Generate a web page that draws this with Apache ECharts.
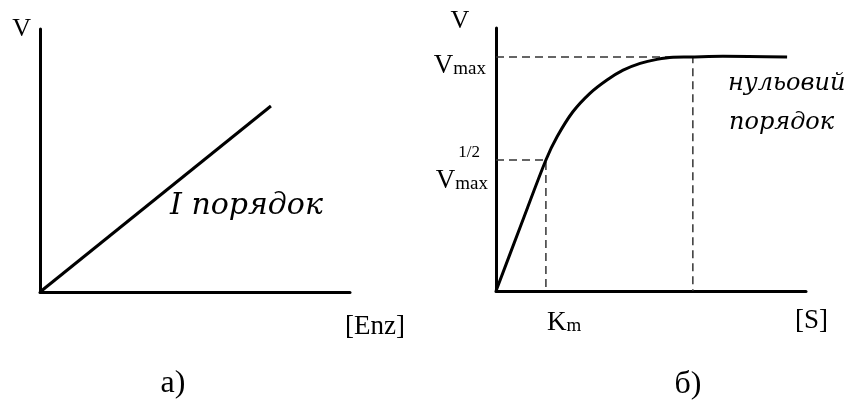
<!DOCTYPE html>
<html>
<head>
<meta charset="utf-8">
<script src="https://cdn.jsdelivr.net/npm/echarts@6/dist/echarts.min.js"></script>
<style>
    html, body {margin: 0; padding: 0; background: #fff;}
    #chart {width: 850px; height: 403px;}
</style>
</head>
<body>
<div id="chart"></div>
<script>
// а) перший порядок: V пропорційна [Enz]
const enzX = [0, 74.5];
const enzV = [0, 79.5];
// б) залежність V від [S]
const substrateS = [0, 8, 16.1, 19.7, 24.8, 30.3, 35.8, 41.0, 46.5, 51.9, 57.1, 62.6, 73.2, 93.9];
const velocityV = [0, 28, 56, 65.9, 76.6, 84.5, 90.2, 94.4, 97.3, 99.0, 99.9, 100, 100.3, 100];
// опорні значення
const vmax = 100;
const halfVmax = 56;
const km = 16.1;
const zeroOrderS = 63.5;
const axisMaxX = 100;
const axisMaxY = 112.4;

const serif = '"Liberation Serif", "DejaVu Serif", serif';
const italic = '"DejaVu Serif", serif';
const ink = '#000';

const chart = echarts.init(document.getElementById('chart'));

function axisPair (idx) {
    return {
        x: {
            gridIndex: idx, type: 'value', min: 0, max: axisMaxX,
            axisLine: {lineStyle: {color: '#000', width: 3}},
            axisTick: {show: false}, axisLabel: {show: false}, splitLine: {show: false}
        },
        y: {
            gridIndex: idx, type: 'value', min: 0, max: axisMaxY,
            axisLine: {show: true, lineStyle: {color: '#000', width: 3}},
            axisTick: {show: false}, axisLabel: {show: false}, splitLine: {show: false}
        }
    };
}
const a0 = axisPair(0);
const a1 = axisPair(1);

const dashStyle = {color: '#333', width: 1.5, type: [8, 5]};

chart.setOption({
    animation: false,
    grid: [
        {left: 40, top: 29, width: 310, height: 263},
        {left: 496, top: 28, width: 310, height: 263}
    ],
    xAxis: [a0.x, a1.x],
    yAxis: [a0.y, a1.y],
    series: [
        {
            type: 'line', xAxisIndex: 0, yAxisIndex: 0, symbol: 'none',
            data: enzX.map((x, i) => [x, enzV[i]]),
            lineStyle: {color: '#000', width: 3}
        },
        {
            type: 'line', xAxisIndex: 1, yAxisIndex: 1, symbol: 'none',
            data: [[0, vmax], [zeroOrderS, vmax], [zeroOrderS, 0]],
            lineStyle: dashStyle
        },
        {
            type: 'line', xAxisIndex: 1, yAxisIndex: 1, symbol: 'none',
            data: [[0, halfVmax], [km, halfVmax], [km, 0]],
            lineStyle: dashStyle
        },
        {
            type: 'line', xAxisIndex: 1, yAxisIndex: 1, symbol: 'none',
            smooth: 0.3,
            data: substrateS.map((s, i) => [s, velocityV[i]]),
            lineStyle: {color: '#000', width: 3},
            z: 3
        }
    ]
});

// підписи прив'язані до осей через convertToPixel
const o0 = chart.convertToPixel({gridIndex: 0}, [0, 0]);
const e0 = chart.convertToPixel({gridIndex: 0}, [axisMaxX, axisMaxY]);
const o1 = chart.convertToPixel({gridIndex: 1}, [0, 0]);
const e1 = chart.convertToPixel({gridIndex: 1}, [axisMaxX, axisMaxY]);
const pVmax = chart.convertToPixel({gridIndex: 1}, [0, vmax]);
const pHalf = chart.convertToPixel({gridIndex: 1}, [0, halfVmax]);
const pKm = chart.convertToPixel({gridIndex: 1}, [km, 0]);

function txt (text, x, y, font, align, vAlign, rich) {
    return {
        type: 'text', x: x, y: y, z: 10,
        style: {text: text, font: font, fill: ink, align: align, verticalAlign: vAlign, rich: rich}
    };
}
const vRich = {
    v: {fontSize: 27, fontFamily: serif, fill: ink, verticalAlign: 'bottom'},
    s: {fontSize: 19, fontFamily: serif, fill: ink, verticalAlign: 'bottom'}
};

chart.setOption({
    graphic: [
        // а)
        txt('V', o0[0] - 9, e0[1] + 13, '26px ' + serif, 'right', 'bottom'),
        txt('[Enz]', e0[0] - 5, o0[1] + 35, '27px ' + serif, 'left', 'middle'),
        txt('I порядок', 170, 206, 'italic 30px ' + italic, 'left', 'middle'),
        txt('а)', (o0[0] + e0[0]) / 2 - 22, 384, '32px ' + serif, 'center', 'middle'),
        // б)
        txt('V', o1[0] - 36, e1[1] - 7, '26px ' + serif, 'center', 'middle'),
        txt('{v|V}{s|max}', o1[0] - 10, pVmax[1] + 22, '', 'right', 'bottom', vRich),
        txt('1/2', o1[0] - 16, pHalf[1] - 7, '17px ' + serif, 'right', 'middle'),
        txt('{v|V}{s|max}', o1[0] - 8, pHalf[1] + 34, '', 'right', 'bottom', vRich),
        txt('{v|K}{s|m}', pKm[0] + 1, o1[1] + 45, '', 'left', 'bottom', vRich),
        txt('[S]', e1[0] - 11, o1[1] + 30, '27px ' + serif, 'left', 'middle'),
        txt('нульовий', 728, 84, 'italic 24px ' + italic, 'left', 'middle'),
        txt('порядок', 729, 123, 'italic 24px ' + italic, 'left', 'middle'),
        txt('б)', (o1[0] + e1[0]) / 2 + 37, 385, '32px ' + serif, 'center', 'middle')
    ]
});
</script>
</body>
</html>
